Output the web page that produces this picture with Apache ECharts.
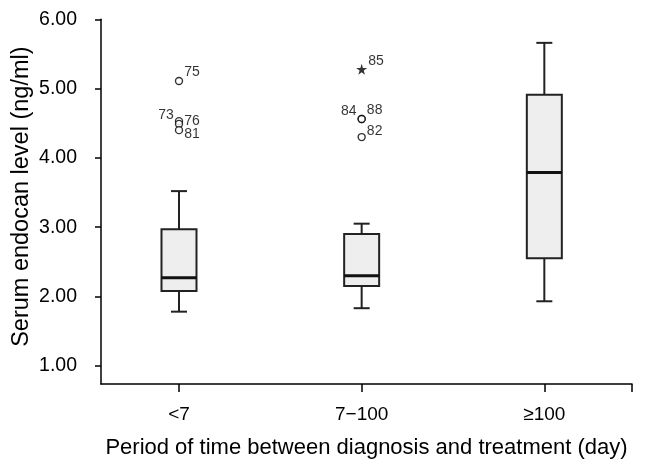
<!DOCTYPE html>
<html><head><meta charset="utf-8">
<script src="https://cdn.jsdelivr.net/npm/echarts@6/dist/echarts.min.js"></script>
<style>html,body{margin:0;padding:0;background:#fff}#c{width:646px;height:469px}</style>
</head><body><div id="c"></div>
<script>
// ---- data ----
const categories = ['<7', '7\u2212100', '\u2265100'];
const boxMin    = [1.78, 1.83, 1.93];
const boxQ1     = [2.08, 2.15, 2.55];
const boxMedian = [2.27, 2.30, 3.79];
const boxQ3     = [2.97, 2.90, 4.91];
const boxMax    = [3.52, 3.05, 5.66];
const outlierGroup = [0, 0, 0, 0, 1, 1, 1, 1];
const outlierValue = [5.11, 4.53, 4.49, 4.40, 5.28, 4.56, 4.56, 4.30];
const outlierId    = ['75', '73', '76', '81', '85', '84', '88', '82'];
const outlierExtreme = [false, false, false, false, true, false, false, false];
const yTicks = [1, 2, 3, 4, 5, 6];

// ---- styles ----
const labelPlace = {
  '75': {position: 'right', offset: [0, -9]},
  '73': {position: 'left',  offset: [0, -6]},
  '76': {position: 'right', offset: [0, -3]},
  '81': {position: 'right', offset: [0, 4]},
  '85': {position: 'right', offset: [0, -8]},
  '84': {position: 'left',  offset: [0, -8]},
  '88': {position: 'right', offset: [0, -9]},
  '82': {position: 'right', offset: [0, -6]}
};
const FONT = "'Liberation Sans', Arial, sans-serif";
const STAR = 'path://M50,0 L61,35 L98,35 L68,57 L79,91 L50,70 L21,91 L32,57 L2,35 L39,35 Z';

const boxData = categories.map((c, i) => [i, boxMin[i], boxQ1[i], boxMedian[i], boxQ3[i], boxMax[i]]);
const outData = outlierValue.map((v, k) => {
  const lp = labelPlace[outlierId[k]];
  return {
    value: [outlierGroup[k], v],
    name: outlierId[k],
    symbol: outlierExtreme[k] ? STAR : 'circle',
    symbolSize: outlierExtreme[k] ? 11 : 7,
    itemStyle: outlierExtreme[k] ? {color: '#000', borderWidth: 0} : {color: '#fff', borderColor: '#000', borderWidth: 1.4},
    label: {show: true, position: lp.position, offset: lp.offset, distance: 1}
  };
});

const chart = echarts.init(document.getElementById('c'), null, {renderer: 'canvas'});
chart.setOption({
  animation: false,
  backgroundColor: '#fff',
  grid: {left: 101, right: 14, top: 19.3, bottom: 85, containLabel: false, outerBoundsMode: 'none'},
  xAxis: {
    type: 'value', min: -0.427, max: 2.48,
    splitLine: {show: false},
    axisLine: {show: true, onZero: false, lineStyle: {color: '#000', width: 1.5}},
    axisTick: {show: true, customValues: [0, 1, 2, 2.48], length: 8, lineStyle: {color: '#000', width: 1.5}},
    axisLabel: {customValues: [0, 1, 2], formatter: v => categories[Math.round(v)], fontSize: 19, color: '#000', fontFamily: FONT, margin: 21},
    name: 'Period of time between diagnosis and treatment (day)',
    nameLocation: 'middle', nameGap: 53, nameMoveOverlap: false,
    nameTextStyle: {fontSize: 22, color: '#000', fontFamily: FONT}
  },
  yAxis: {
    type: 'value', min: 0.736, max: 6,
    splitLine: {show: false},
    axisLine: {show: true, onZero: false, lineStyle: {color: '#000', width: 1.5}},
    axisTick: {show: true, customValues: yTicks, length: 6, lineStyle: {color: '#000', width: 1.5}},
    axisLabel: {customValues: yTicks, formatter: v => v.toFixed(2), fontSize: 19.5, color: '#000', fontFamily: FONT, margin: 24},
    name: 'Serum endocan level (ng/ml)',
    nameLocation: 'middle', nameGap: 67, nameRotate: 90, nameMoveOverlap: false,
    nameTextStyle: {fontSize: 23.5, color: '#000', fontFamily: FONT, padding: [0, 0, 0, 10]}
  },
  series: [
    {
      type: 'custom',
      data: boxData,
      encode: {x: 0, y: [1, 2, 3, 4, 5]},
      renderItem: function (params, api) {
        const i = api.value(0);
        const pMin = api.coord([i, api.value(1)]);
        const pQ1 = api.coord([i, api.value(2)]);
        const pMed = api.coord([i, api.value(3)]);
        const pQ3 = api.coord([i, api.value(4)]);
        const pMax = api.coord([i, api.value(5)]);
        const x = pMin[0], hw = 17.5, cw = 8;
        const st = {stroke: '#222', lineWidth: 2};
        return {type: 'group', children: [
          {type: 'line', shape: {x1: x, y1: pMax[1], x2: x, y2: pQ3[1]}, style: st},
          {type: 'line', shape: {x1: x, y1: pQ1[1], x2: x, y2: pMin[1]}, style: st},
          {type: 'line', shape: {x1: x - cw, y1: pMax[1], x2: x + cw, y2: pMax[1]}, style: st},
          {type: 'line', shape: {x1: x - cw, y1: pMin[1], x2: x + cw, y2: pMin[1]}, style: st},
          {type: 'rect', shape: {x: x - hw, y: pQ3[1], width: 2 * hw, height: pQ1[1] - pQ3[1]}, style: {fill: '#eeeeee', stroke: '#222', lineWidth: 2}},
          {type: 'line', shape: {x1: x - hw, y1: pMed[1], x2: x + hw, y2: pMed[1]}, style: {stroke: '#111', lineWidth: 3}}
        ]};
      }
    },
    {
      type: 'scatter',
      data: outData,
      label: {formatter: p => p.name, fontSize: 14, color: '#000', fontFamily: FONT},
      z: 5
    }
  ]
});
</script>
</body></html>
